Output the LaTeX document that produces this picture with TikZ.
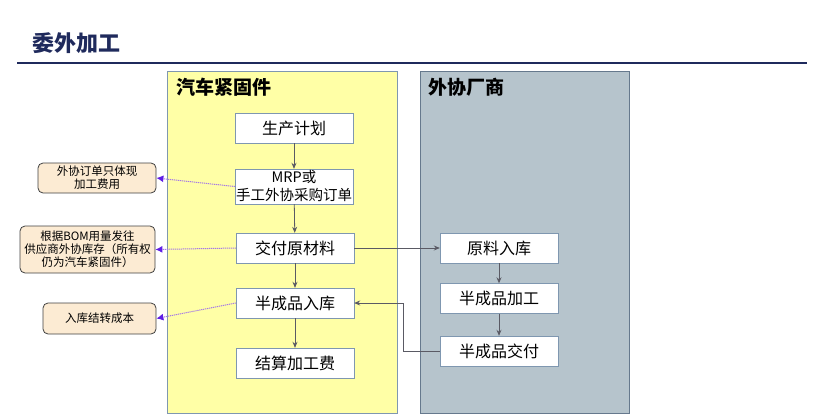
\documentclass[tikz,border=0pt]{standalone}
\usepackage{fontspec}
\setmainfont{Noto Sans CJK SC}
\usetikzlibrary{arrows.meta}
\definecolor{navy}{RGB}{31,42,92}
\definecolor{panelyellow}{RGB}{255,255,166}
\definecolor{panelgray}{RGB}{182,196,204}
\definecolor{boxline}{RGB}{127,151,176}
\definecolor{notefill}{RGB}{252,235,211}
\definecolor{flowgray}{RGB}{90,90,100}
\definecolor{memoline}{RGB}{165,120,230}
\definecolor{memotip}{RGB}{95,30,230}
\tikzset{
  stepbox/.style={draw=boxline,fill=white,minimum width=118pt,minimum height=30pt,
    inner sep=0pt,align=center,font=\fontsize{16}{19}\selectfont},
  notebox/.style={draw=black!75,fill=notefill,thick,rounded corners=5pt,inner sep=0pt,
    align=center,font=\fontsize{11.5}{13}\selectfont},
  flow/.style={-{Stealth[length=6pt,width=5pt]},draw=flowgray,thick},
  memo/.style={-{Latex[length=7pt,width=7pt,color=memotip,fill=memotip]},draw=memoline,
    dash pattern=on 1.2pt off 0.8pt,line width=1pt},
  panellabel/.style={anchor=west,inner sep=0pt,font=\fontsize{19}{22}\selectfont\bfseries}
}
\begin{document}
\begin{tikzpicture}[x=1pt,y=-1pt]
\useasboundingbox (0,0) rectangle (830,420);
% 标题
\node[anchor=west,inner sep=0pt,text=navy,font=\fontsize{22}{24}\selectfont\bfseries] (title) at (32,43) {委外加工};
\draw[navy,line width=2pt] (17,63) -- (807,63);
% 两个区域
\draw[fill=panelyellow,draw=boxline] (167,71) rectangle (397,413);
\draw[fill=panelgray,draw=boxline!80!black] (420,71) rectangle (629,413);
\node[panellabel] (fastener) at (176,87) {汽车紧固件};
\node[panellabel] (vendor) at (428,87) {外协厂商};
% 汽车紧固件流程
\node[stepbox] (plan) at (294,128) {生产计划};
\node[stepbox,minimum height=35pt,font=\fontsize{14.5}{18}\selectfont] (mrp) at (294,186.5) {MRP或\\手工外协采购订单};
\node[stepbox] (deliver) at (295,248) {交付原材料};
\node[stepbox] (semiin) at (295,303) {半成品入库};
\node[stepbox] (settle) at (295,363) {结算加工费};
% 外协厂商流程
\node[stepbox] (rawin) at (499,248) {原料入库};
\node[stepbox] (process) at (499,298.5) {半成品加工};
\node[stepbox] (semiout) at (499,351) {半成品交付};
% 说明
\node[notebox,minimum width=118pt,minimum height=30pt] (note1) at (97,178) {外协订单只体现\\加工费用};
\node[notebox,minimum width=135pt,minimum height=47pt] (note2) at (87.5,249.5) {根据BOM用量发往\\供应商外协库存（所有权\\仍为汽车紧固件）};
\node[notebox,minimum width=113pt,minimum height=31pt] (note3) at (99.5,318.5) {入库结转成本};
% 箭头
\draw[flow] (plan) -- (mrp);
\draw[flow] (mrp) -- (deliver);
\draw[flow] (deliver) -- (semiin);
\draw[flow] (semiin) -- (settle);
\draw[flow] (deliver) -- (rawin);
\draw[flow] (rawin) -- (process);
\draw[flow] (process) -- (semiout);
\draw[flow] (semiout.west) -| (403,303) -- (semiin.east);
\draw[memo] (mrp.west) -- (note1.east);
\draw[memo] (deliver.west) -- (note2.east);
\draw[memo] (semiin.west) -- (note3.east);
\end{tikzpicture}
\end{document}
